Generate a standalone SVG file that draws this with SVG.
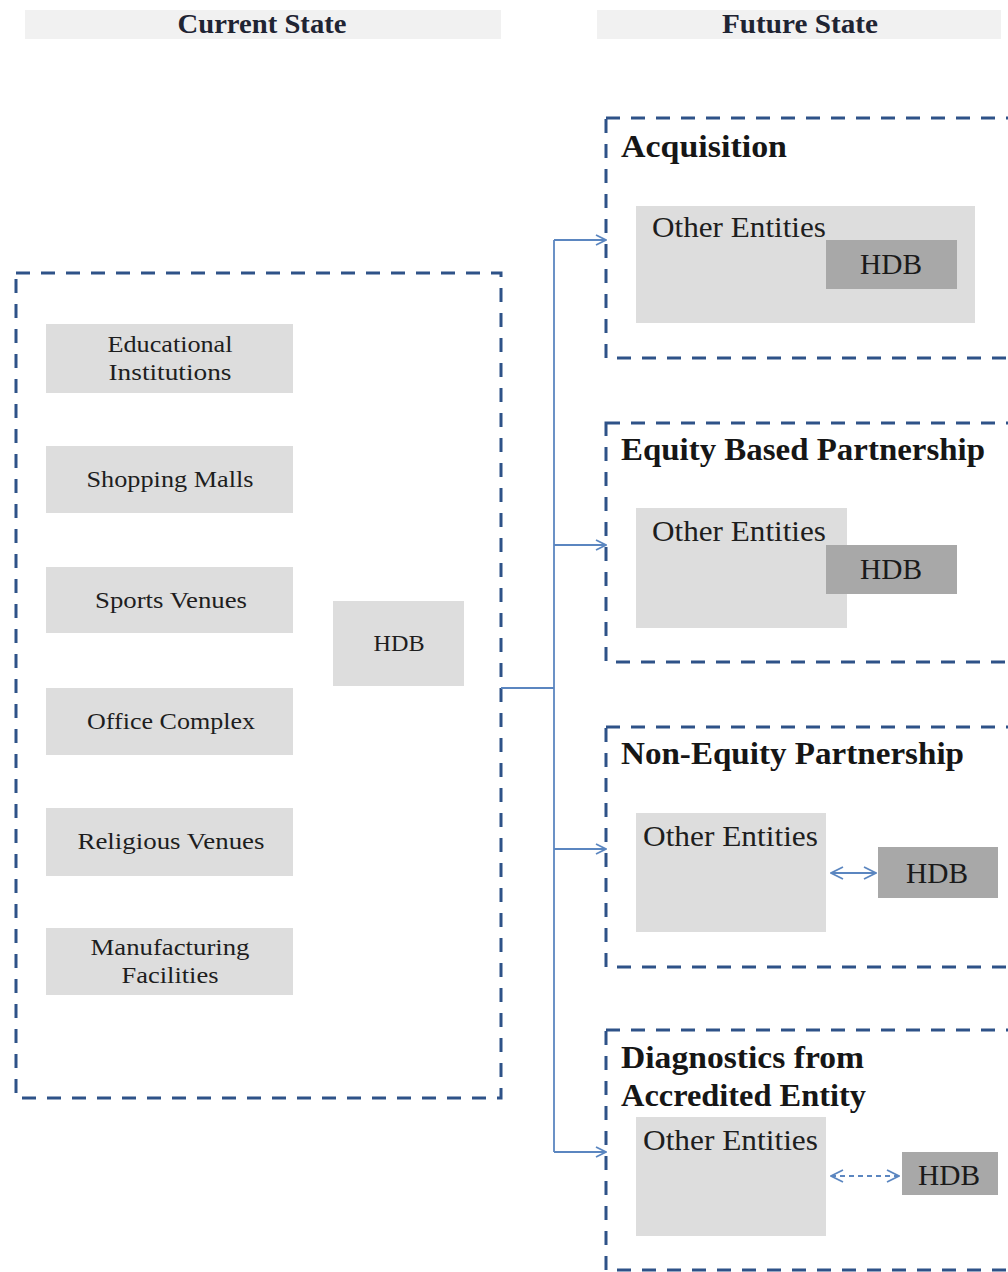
<svg xmlns="http://www.w3.org/2000/svg" width="1008" height="1272" viewBox="0 0 1008 1272">
  <defs>
    <style>
      .hdr { fill: #F1F1F1; }
      .hdrt { font-family: "Liberation Serif", "DejaVu Serif", serif; font-weight: bold; font-size: 28px; fill: #1F2433; text-anchor: middle; }
      .frame { fill: none; stroke: #2E5288; stroke-width: 3; stroke-dasharray: 14 11; }
      .item { fill: #DDDDDD; }
      .dark { fill: #A8A8A8; }
      .itemt { font-family: "Liberation Serif", "DejaVu Serif", serif; font-size: 24px; fill: #1E1E1E; text-anchor: middle; }
      .title { font-family: "Liberation Serif", "DejaVu Serif", serif; font-weight: bold; font-size: 32px; fill: #161616; }
      .ent { font-family: "Liberation Serif", "DejaVu Serif", serif; font-size: 29px; fill: #1E1E1E; }
      .hdb { font-family: "Liberation Serif", "DejaVu Serif", serif; font-size: 29px; fill: #1A1A1A; text-anchor: middle; }
      .link { fill: none; stroke: #5B86C0; stroke-width: 1.8; }
    </style>
    <marker id="chev" viewBox="0 0 12 12" refX="11" refY="6" markerWidth="12" markerHeight="12" markerUnits="userSpaceOnUse" orient="auto-start-reverse">
      <path d="M1,1 L11,6 L1,11" fill="none" stroke="#5B86C0" stroke-width="1.8"/>
    </marker>
    <marker id="chevL" viewBox="0 0 14 14" refX="13" refY="7" markerWidth="14" markerHeight="14" markerUnits="userSpaceOnUse" orient="auto-start-reverse">
      <path d="M1,1 L13,7 L1,13" fill="none" stroke="#5B86C0" stroke-width="1.8"/>
    </marker>
  </defs>

  <rect width="1008" height="1272" fill="#FFFFFF"/>

  <!-- column headers -->
  <g id="header-current">
    <rect class="hdr" x="25" y="10" width="476" height="29"/>
    <text class="hdrt" x="262" y="33" textLength="169" lengthAdjust="spacingAndGlyphs">Current State</text>
  </g>
  <g id="header-future">
    <rect class="hdr" x="597" y="10" width="404" height="29"/>
    <text class="hdrt" x="800" y="33" textLength="156" lengthAdjust="spacingAndGlyphs">Future State</text>
  </g>

  <!-- current state group -->
  <g id="current-state">
    <rect class="frame" x="16" y="273" width="485" height="825"/>
  </g>
  <g id="educational">
    <rect class="item" x="46" y="324" width="247" height="69"/>
    <text class="itemt" x="170" y="352" textLength="125" lengthAdjust="spacingAndGlyphs">Educational</text>
    <text class="itemt" x="170" y="380" textLength="123" lengthAdjust="spacingAndGlyphs">Institutions</text>
  </g>
  <g id="shopping">
    <rect class="item" x="46" y="446" width="247" height="67"/>
    <text class="itemt" x="170" y="487" textLength="167" lengthAdjust="spacingAndGlyphs">Shopping Malls</text>
  </g>
  <g id="sports">
    <rect class="item" x="46" y="567" width="247" height="66"/>
    <text class="itemt" x="171" y="608" textLength="152" lengthAdjust="spacingAndGlyphs">Sports Venues</text>
  </g>
  <g id="office">
    <rect class="item" x="46" y="688" width="247" height="67"/>
    <text class="itemt" x="171" y="729" textLength="168" lengthAdjust="spacingAndGlyphs">Office Complex</text>
  </g>
  <g id="religious">
    <rect class="item" x="46" y="808" width="247" height="68"/>
    <text class="itemt" x="171" y="849" textLength="187" lengthAdjust="spacingAndGlyphs">Religious Venues</text>
  </g>
  <g id="manufacturing">
    <rect class="item" x="46" y="928" width="247" height="67"/>
    <text class="itemt" x="170" y="955" textLength="159" lengthAdjust="spacingAndGlyphs">Manufacturing</text>
    <text class="itemt" x="170" y="983" textLength="97" lengthAdjust="spacingAndGlyphs">Facilities</text>
  </g>
  <g id="hdb-current">
    <rect class="item" x="333" y="601" width="131" height="85"/>
    <text class="itemt" x="399" y="651" textLength="51" lengthAdjust="spacingAndGlyphs">HDB</text>
  </g>

  <!-- connectors -->
  <g id="connectors">
    <path class="link" d="M501,688 H554"/>
    <path class="link" d="M554,240 V1152"/>
    <path class="link" d="M554,240 H606" marker-end="url(#chev)"/>
    <path class="link" d="M554,545 H606" marker-end="url(#chev)"/>
    <path class="link" d="M554,849 H606" marker-end="url(#chev)"/>
    <path class="link" d="M554,1152 H606" marker-end="url(#chev)"/>
    <path class="link" d="M831,873 H876" marker-start="url(#chevL)" marker-end="url(#chevL)"/>
    <path class="link" d="M831,1176 H899" stroke-dasharray="5 4" marker-start="url(#chevL)" marker-end="url(#chevL)"/>
  </g>

  <!-- acquisition -->
  <g id="acquisition">
    <rect class="frame" x="606" y="118" width="430" height="240"/>
    <text class="title" x="621" y="157" textLength="166" lengthAdjust="spacingAndGlyphs">Acquisition</text>
    <rect class="item" x="636" y="206" width="339" height="117"/>
    <text class="ent" x="652" y="237" textLength="174" lengthAdjust="spacingAndGlyphs">Other Entities</text>
    <rect class="dark" x="826" y="240" width="131" height="49"/>
    <text class="hdb" x="891" y="274" textLength="62" lengthAdjust="spacingAndGlyphs">HDB</text>
  </g>

  <!-- equity based partnership -->
  <g id="equity">
    <rect class="frame" x="606" y="423" width="430" height="239"/>
    <text class="title" x="621" y="460" textLength="364" lengthAdjust="spacingAndGlyphs">Equity Based Partnership</text>
    <rect class="item" x="636" y="508" width="211" height="120"/>
    <text class="ent" x="652" y="541" textLength="174" lengthAdjust="spacingAndGlyphs">Other Entities</text>
    <rect class="dark" x="826" y="545" width="131" height="49"/>
    <text class="hdb" x="891" y="579" textLength="62" lengthAdjust="spacingAndGlyphs">HDB</text>
  </g>

  <!-- non-equity partnership -->
  <g id="non-equity">
    <rect class="frame" x="606" y="727" width="430" height="240"/>
    <text class="title" x="621" y="764" textLength="343" lengthAdjust="spacingAndGlyphs">Non-Equity Partnership</text>
    <rect class="item" x="636" y="813" width="190" height="119"/>
    <text class="ent" x="643" y="846" textLength="175" lengthAdjust="spacingAndGlyphs">Other Entities</text>
    <rect class="dark" x="878" y="847" width="120" height="51"/>
    <text class="hdb" x="937" y="883" textLength="62" lengthAdjust="spacingAndGlyphs">HDB</text>
  </g>

  <!-- diagnostics -->
  <g id="diagnostics">
    <rect class="frame" x="606" y="1030" width="430" height="240"/>
    <text class="title" x="621" y="1068" textLength="243" lengthAdjust="spacingAndGlyphs">Diagnostics from</text>
    <text class="title" x="621" y="1106" textLength="245" lengthAdjust="spacingAndGlyphs">Accredited Entity</text>
    <rect class="item" x="636" y="1117" width="190" height="119"/>
    <text class="ent" x="643" y="1150" textLength="175" lengthAdjust="spacingAndGlyphs">Other Entities</text>
    <rect class="dark" x="902" y="1152" width="96" height="43"/>
    <text class="hdb" x="949" y="1185" textLength="62" lengthAdjust="spacingAndGlyphs">HDB</text>
  </g>
</svg>
